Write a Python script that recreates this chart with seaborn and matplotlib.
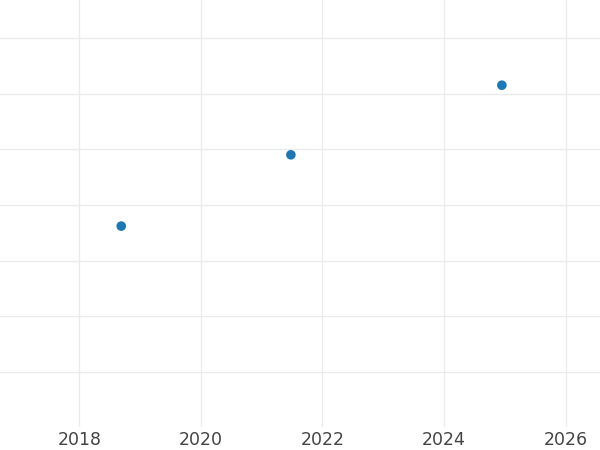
import matplotlib
matplotlib.use("Agg")
import matplotlib.pyplot as plt
import pandas as pd
import seaborn as sns

# Data (y has no labels, so grid units are used)
years = [2018.69, 2021.48, 2024.95]
values = [2.62, 3.90, 5.15]
xticks = [2018, 2020, 2022, 2024, 2026]

df = pd.DataFrame({'year': years, 'value': values})

sns.set_style('whitegrid')
plt.rcParams['font.family'] = ['DejaVu Sans']

fig = plt.figure(figsize=(6, 4.5), dpi=100)
ax = fig.add_axes([0, 23 / 450, 1, 427 / 450])

sns.scatterplot(data=df, x='year', y='value', ax=ax, color='#1f77b4',
                s=48, edgecolor='none', zorder=3)

ax.set_xlim(2016.696, 2026.564)
ax.set_ylim(-0.988, 6.68)
ax.set_xticks(xticks)
ax.set_xticklabels([str(t) for t in xticks])
ax.set_yticks(range(0, 7))
ax.set_yticklabels([])
ax.tick_params(axis='both', length=0)
ax.tick_params(axis='x', labelsize=12.5, labelcolor='#444444', pad=3)
ax.grid(True, color='#ebebeb', linewidth=1.0)
ax.set_xlabel('')
ax.set_ylabel('')
for s in ax.spines.values():
    s.set_visible(False)

fig.savefig('out.png', dpi=100)
